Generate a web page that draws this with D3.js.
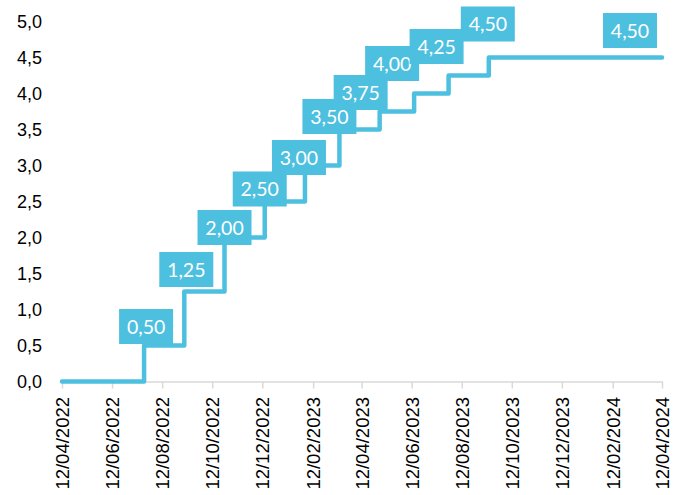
<!DOCTYPE html>
<html>
<head>
<meta charset="utf-8">
<script src="https://cdn.jsdelivr.net/npm/d3@7"></script>
<style>
  html, body { margin: 0; padding: 0; background: #fff; }
  svg { display: block; font-family: Lato, "Open Sans", sans-serif; }
</style>
</head>
<body>
<svg id="chart" width="683" height="495"></svg>
<script>
// Policy rate path: dates of each change and the rate from that date on
const changeDates = ["2022-04-12", "2022-07-21", "2022-09-08", "2022-10-27", "2022-12-15",
                     "2023-02-02", "2023-03-16", "2023-05-04", "2023-06-15", "2023-07-27",
                     "2023-09-14", "2024-04-12"];
const rates = [0, 0.50, 1.25, 2.00, 2.50, 3.00, 3.50, 3.75, 4.00, 4.25, 4.50, 4.50];

// Indices of the points that carry a value label
const labelledPoints = [1, 2, 3, 4, 5, 6, 7, 8, 9, 10, 11];

// Axis ticks
const xTickDates = ["2022-04-12", "2022-06-12", "2022-08-12", "2022-10-12", "2022-12-12",
                    "2023-02-12", "2023-04-12", "2023-06-12", "2023-08-12", "2023-10-12",
                    "2023-12-12", "2024-02-12", "2024-04-12"];
const yTicks = [0, 0.5, 1, 1.5, 2, 2.5, 3, 3.5, 4, 4.5, 5];

// Label box placement relative to its point (px)
const labelNudge = [[2, -19], [2, -22], [0, -10], [-5, -12.5], [-6, -8], [-10, -13],
                    [-19, -19], [-22, -30], [-12, -29], [-1, -33.5], [-32, -27]];

const parse = d3.utcParse("%Y-%m-%d");
const color = "#4dc0df";

const locale = d3.formatLocale({ decimal: ",", thousands: ".", grouping: [3], currency: ["", " €"] });
const fmtTick = locale.format(".1f");
const fmtLabel = locale.format(".2f");
const fmtDate = d3.utcFormat("%d/%m/%Y");

const svg = d3.select("#chart");

const x = d3.scaleUtc()
  .domain([parse(changeDates[0]), parse(changeDates[changeDates.length - 1])])
  .range([62, 662]);
const y = d3.scaleLinear().domain([0, 5]).range([381.5, 21.5]);

// X axis: light grey baseline with downward ticks, rotated date labels
const xAxis = svg.append("g")
  .attr("transform", `translate(0,${y(0)})`)
  .call(d3.axisBottom(x)
    .tickValues(xTickDates.map(parse))
    .tickFormat(fmtDate)
    .tickSize(7)
    .tickSizeOuter(0));
xAxis.select(".domain").attr("stroke", "#d9d9d9").attr("stroke-width", 1.5);
xAxis.selectAll(".tick line").attr("stroke", "#d9d9d9").attr("stroke-width", 1.5);
xAxis.selectAll(".tick text")
  .attr("fill", "#000")
  .style("font-size", "18.5px")
  .attr("text-anchor", "end")
  .attr("transform", "rotate(-90)")
  .attr("x", -15.5)
  .attr("y", 0)
  .attr("dy", "0.35em");

// Y axis: labels only
const yAxis = svg.append("g")
  .attr("transform", "translate(43,0)")
  .call(d3.axisLeft(y).tickValues(yTicks).tickFormat(fmtTick).tickSize(0).tickPadding(1));
yAxis.select(".domain").remove();
yAxis.selectAll(".tick text").attr("fill", "#000").style("font-size", "18px");

// Step line
const pts = changeDates.map((d, i) => ({ date: parse(d), rate: rates[i] }));
const line = d3.line()
  .x(d => x(d.date))
  .y(d => y(d.rate))
  .curve(d3.curveStepAfter);

svg.append("path")
  .datum(pts)
  .attr("fill", "none")
  .attr("stroke", color)
  .attr("stroke-width", 4.5)
  .attr("stroke-linejoin", "round")
  .attr("stroke-linecap", "round")
  .attr("d", line);

// Value labels in filled boxes
const boxW = 54, boxH = 35;
const labels = svg.append("g").selectAll("g")
  .data(labelledPoints)
  .join("g")
  .attr("transform", (idx, i) => {
    const cx = x(pts[idx].date) + labelNudge[i][0];
    const cy = y(pts[idx].rate) + labelNudge[i][1];
    return `translate(${cx},${cy})`;
  });
labels.append("rect")
  .attr("x", -boxW / 2).attr("y", -boxH / 2)
  .attr("width", boxW).attr("height", boxH)
  .attr("fill", color);
labels.append("text")
  .attr("text-anchor", "middle")
  .attr("dy", "0.36em")
  .attr("fill", "#fff")
  .style("font-size", "19.5px")
  .text(idx => fmtLabel(pts[idx].rate));
</script>
</body>
</html>
